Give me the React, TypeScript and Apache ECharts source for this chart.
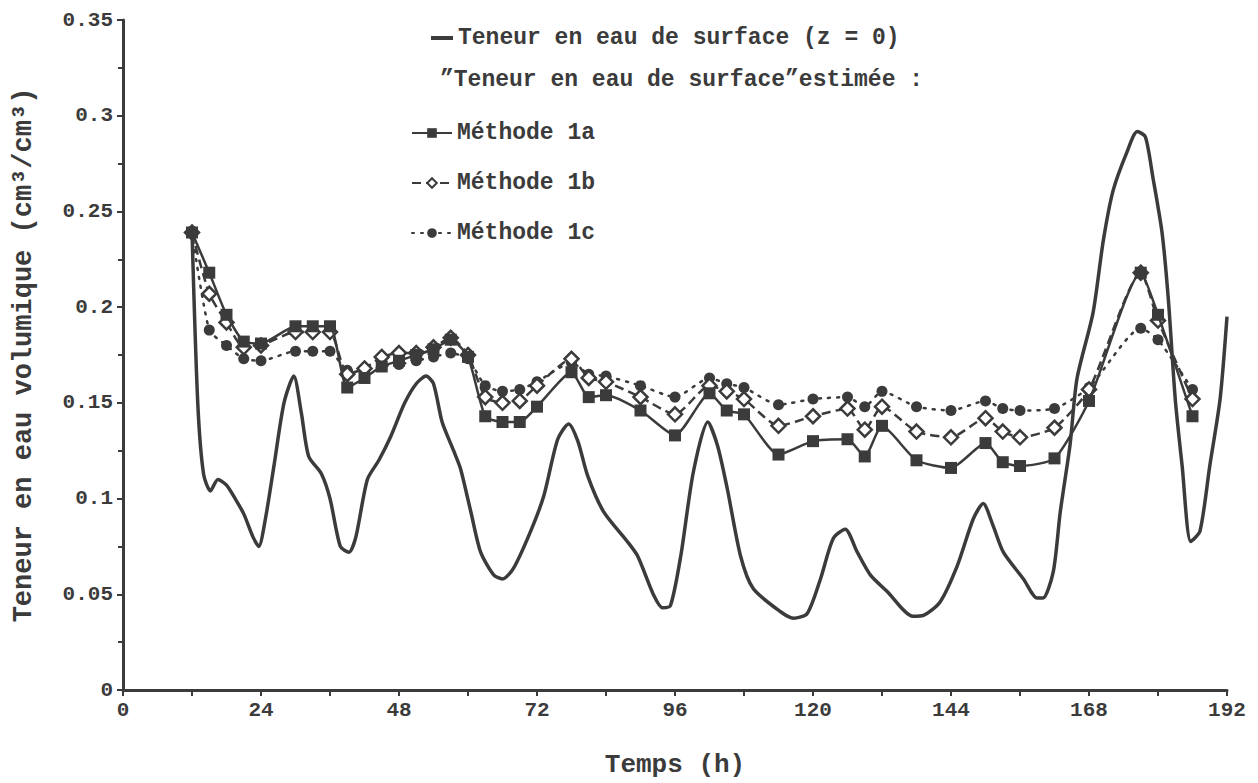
import React, { useEffect, useRef } from "react";
import * as echarts from "echarts";

// Time (h) of the estimated points
const methodTimes = [12, 15, 18, 21, 24, 30, 33, 36, 39, 42, 45, 48, 51, 54, 57, 60, 63, 66, 69, 72, 78, 81, 84, 90, 96, 102, 105, 108, 114, 120, 126, 129, 132, 138, 144, 150, 153, 156, 162, 168, 177, 180, 186];

const methode1a = [0.239, 0.218, 0.196, 0.182, 0.181, 0.190, 0.190, 0.190, 0.158, 0.163, 0.169, 0.172, 0.175, 0.178, 0.183, 0.174, 0.143, 0.140, 0.140, 0.148, 0.166, 0.153, 0.154, 0.146, 0.133, 0.155, 0.146, 0.144, 0.123, 0.130, 0.131, 0.122, 0.138, 0.120, 0.116, 0.129, 0.119, 0.117, 0.121, 0.151, 0.218, 0.196, 0.143];

const methode1b = [0.239, 0.207, 0.192, 0.179, 0.180, 0.187, 0.187, 0.187, 0.165, 0.168, 0.174, 0.176, 0.176, 0.179, 0.184, 0.175, 0.153, 0.150, 0.151, 0.159, 0.173, 0.163, 0.161, 0.153, 0.144, 0.159, 0.156, 0.152, 0.138, 0.143, 0.147, 0.136, 0.148, 0.135, 0.132, 0.142, 0.135, 0.132, 0.137, 0.157, 0.218, 0.193, 0.152];

const methode1c = [0.239, 0.188, 0.180, 0.173, 0.172, 0.177, 0.177, 0.177, 0.167, 0.167, 0.169, 0.170, 0.172, 0.174, 0.176, 0.173, 0.159, 0.156, 0.157, 0.161, 0.171, 0.165, 0.164, 0.159, 0.153, 0.163, 0.160, 0.158, 0.149, 0.152, 0.153, 0.148, 0.156, 0.148, 0.146, 0.151, 0.147, 0.146, 0.147, 0.158, 0.189, 0.183, 0.157];

// Surface water content (z = 0)
const surfaceTimes = [12, 13, 14, 15.2, 16.5, 18, 19.5, 21, 22.6, 23.6, 24.8, 26.3, 28, 29.7, 31, 32.3, 34.5, 36, 37.8, 39.3, 40.5, 42.5, 44.5, 46.5, 49, 51, 52.7, 54, 55.5, 57.5, 58.7, 60.5, 62.2, 64.5, 66, 67.9, 70.9, 73.2, 75.6, 77.5, 79.1, 80.8, 83.6, 87.7, 89.5, 92.3, 93.8, 95.2, 97, 99.2, 101.7, 103.4, 105.1, 107.4, 109.6, 114.3, 116.6, 119, 121.3, 123.5, 125.6, 127.7, 130, 132.9, 137.4, 139.2, 142.1, 145.1, 147.9, 149.6, 151.3, 153.1, 156.6, 159, 160, 161.8, 163, 164.7, 165.9, 168.7, 170.5, 172.2, 174.6, 176.4, 177.8, 179.1, 180.7, 181.8, 183, 184.2, 185.7, 187.3, 189, 190.8, 192];

const surfaceValues = [0.240, 0.150, 0.113, 0.104, 0.110, 0.107, 0.100, 0.092, 0.080, 0.075, 0.090, 0.118, 0.150, 0.164, 0.145, 0.122, 0.113, 0.100, 0.075, 0.072, 0.080, 0.110, 0.120, 0.132, 0.150, 0.160, 0.164, 0.160, 0.140, 0.125, 0.1156, 0.093, 0.072, 0.060, 0.058, 0.0635, 0.083, 0.1016, 0.131, 0.139, 0.130, 0.112, 0.093, 0.0776, 0.070, 0.0495, 0.043, 0.044, 0.070, 0.114, 0.140, 0.1276, 0.105, 0.070, 0.053, 0.041, 0.0375, 0.040, 0.058, 0.079, 0.084, 0.072, 0.060, 0.0515, 0.0385, 0.039, 0.046, 0.065, 0.0896, 0.0974, 0.086, 0.072, 0.058, 0.048, 0.048, 0.062, 0.093, 0.128, 0.1625, 0.197, 0.235, 0.261, 0.281, 0.2917, 0.289, 0.268, 0.239, 0.204, 0.152, 0.117, 0.0776, 0.083, 0.117, 0.152, 0.195];

const xTicks = [0, 24, 48, 72, 96, 120, 144, 168, 192];

const INK = "#3b3b3b";
const FONT = "'Liberation Mono', 'DejaVu Sans Mono', monospace";

const pairs = (xs: number[], ys: number[]) => xs.map((x, i) => [x, ys[i]]);

export default function App() {
  const ref = useRef<HTMLDivElement>(null);
  useEffect(() => {
    if (!ref.current) return;
    const chart = echarts.init(ref.current, undefined, { renderer: "svg" });
    chart.setOption({
      animation: false,
      backgroundColor: "#ffffff",
      grid: { left: 123, right: 31, top: 20, bottom: 91, containLabel: false },
      xAxis: {
        type: "value",
        min: 0,
        max: 192,
        interval: 24,
        name: "Temps (h)",
        nameLocation: "middle",
        nameGap: 62,
        nameTextStyle: { fontFamily: FONT, fontWeight: "bold", fontSize: 26, color: INK },
        axisLine: { show: true, lineStyle: { color: INK, width: 3 } },
        axisTick: { show: true, length: 6, lineStyle: { color: INK, width: 2 } },
        minorTick: { show: true, splitNumber: 2, length: 6, lineStyle: { color: INK, width: 2 } },
        splitLine: { show: false },
        axisLabel: {
          fontFamily: FONT, fontWeight: "bold", fontSize: 21, color: INK, margin: 10,
          formatter: (v: number) => (xTicks.indexOf(v) >= 0 ? String(v) : ""),
        },
      },
      yAxis: {
        type: "value",
        min: 0,
        max: 0.35,
        interval: 0.05,
        name: "Teneur en eau volumique (cm³/cm³)",
        nameLocation: "middle",
        nameRotate: 90,
        nameGap: 86,
        nameTextStyle: { fontFamily: FONT, fontWeight: "bold", fontSize: 27, color: INK },
        axisLine: { show: true, lineStyle: { color: INK, width: 3 } },
        axisTick: { show: true, length: 6, lineStyle: { color: INK, width: 2 } },
        minorTick: { show: true, splitNumber: 2, length: 5, lineStyle: { color: INK, width: 2 } },
        splitLine: { show: false },
        axisLabel: {
          fontFamily: FONT, fontWeight: "bold", fontSize: 21, color: INK, margin: 10,
          formatter: (v: number) => String(Math.round(v * 100) / 100),
        },
      },
      legend: [
        {
          data: [{ name: "Teneur en eau de surface (z = 0)", icon: "rect" }],
          left: 426,
          top: 20,
          itemWidth: 22,
          itemHeight: 4,
          itemGap: 0,
          textStyle: { fontFamily: FONT, fontWeight: "bold", fontSize: 23, color: INK, lineHeight: 26 },
        },
        {
          data: ["Méthode 1a", "Méthode 1b", "Méthode 1c"],
          orient: "vertical",
          left: 406,
          top: 115,
          itemWidth: 40,
          itemHeight: 12,
          itemGap: 24,
          textStyle: { fontFamily: FONT, fontWeight: "bold", fontSize: 23, color: INK, lineHeight: 26 },
        },
      ],
      graphic: [
        {
          type: "text",
          left: 440,
          top: 68,
          style: {
            text: "\u201DTeneur en eau de surface\u201Destimée :",
            fontFamily: FONT,
            fontWeight: "bold",
            fontSize: 23,
            fill: INK,
          },
        },
      ],
      series: [
        {
          name: "Méthode 1c",
          type: "line",
          data: pairs(methodTimes, methode1c),
          symbol: "circle",
          symbolSize: 11,
          smooth: 0.2,
          itemStyle: { color: INK },
          lineStyle: { color: INK, width: 2.5, type: [2, 7], cap: "round" },
          z: 2,
        },
        {
          name: "Méthode 1b",
          type: "line",
          data: pairs(methodTimes, methode1b),
          symbol: "diamond",
          symbolSize: 14,
          smooth: 0.2,
          itemStyle: { color: "#ffffff", borderColor: INK, borderWidth: 2.5 },
          lineStyle: { color: INK, width: 2.5, type: [9, 5] },
          z: 3,
        },
        {
          name: "Méthode 1a",
          type: "line",
          data: pairs(methodTimes, methode1a),
          symbol: "rect",
          symbolSize: 12,
          smooth: 0.2,
          itemStyle: { color: INK },
          lineStyle: { color: INK, width: 2.5 },
          z: 4,
        },
        {
          name: "Teneur en eau de surface (z = 0)",
          type: "line",
          data: pairs(surfaceTimes, surfaceValues),
          symbol: "none",
          smooth: 0.25,
          itemStyle: { color: INK },
          lineStyle: { color: INK, width: 3.5 },
          z: 5,
        },
      ],
    });
    return () => chart.dispose();
  }, []);
  return (
    <div
      ref={ref}
      style={{ position: "fixed", left: 0, top: 0, width: 1258, height: 783, background: "#fff" }}
    />
  );
}
